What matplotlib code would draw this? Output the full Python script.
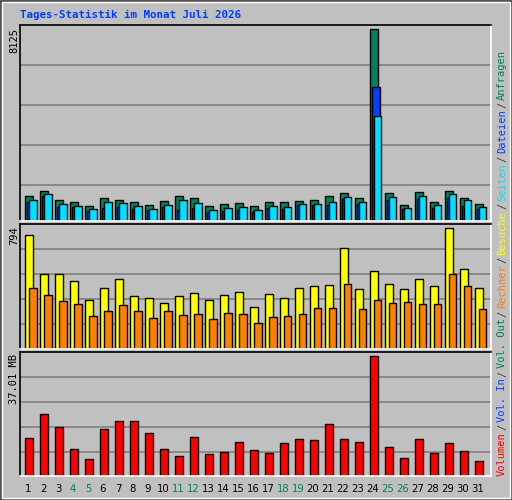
import matplotlib
matplotlib.use("Agg")
import matplotlib.pyplot as plt
from matplotlib.patches import Rectangle
import numpy as np

days = list(range(1, 32))
weekend = [4, 5, 11, 12, 18, 19, 25, 26]

hits = [1064, 1276, 893, 808, 638, 978, 893, 808, 681, 851, 1064, 978, 638, 723, 766, 638,
        808, 808, 851, 893, 1064, 1191, 978, 8125, 1191, 681, 1234, 808, 1276, 978, 723]
files = [893, 1149, 723, 638, 510, 808, 766, 638, 510, 681, 893, 766, 468, 553, 596, 468,
         638, 596, 723, 723, 808, 1021, 808, 4467, 1021, 553, 1064, 681, 1149, 893, 596]
pages = [808, 1064, 596, 596, 425, 553, 596, 510, 468, 596, 468, 553, 383, 425, 468, 383,
         553, 510, 681, 681, 681, 936, 723, 5700, 893, 510, 936, 553, 978, 638, 510]
visits = [748, 490, 496, 450, 324, 404, 463, 351, 338, 304, 351, 371, 324, 357, 377, 278,
          364, 338, 404, 417, 424, 662, 397, 510, 430, 397, 463, 417, 794, 529, 404]
sites = [404, 357, 318, 298, 218, 251, 291, 251, 205, 251, 225, 232, 199, 238, 232, 172,
         212, 218, 232, 271, 271, 430, 265, 324, 304, 311, 298, 298, 496, 417, 265]
volume = [11.89, 19.03, 15.30, 8.48, 5.38, 14.68, 17.16, 17.16, 13.44, 8.48, 6.31, 12.20,
          6.93, 7.55, 10.65, 8.17, 7.24, 10.34, 11.58, 11.27, 16.23, 11.58, 10.65, 37.01,
          9.10, 5.69, 11.58, 7.24, 10.34, 7.86, 4.76]

BG = "#C0C0C0"
W, H = 512, 500
fig = plt.figure(figsize=(W / 100, H / 100), dpi=100, facecolor=BG)


def px_axes(x0, y0, x1, y1):
    ax = fig.add_axes([x0 / W, 1 - y1 / H, (x1 - x0) / W, (y1 - y0) / H])
    ax.set_facecolor(BG)
    ax.set_xticks([])
    ax.set_yticks([])
    ax.spines["top"].set_color("black")
    ax.spines["left"].set_color("black")
    ax.spines["bottom"].set_color("white")
    ax.spines["right"].set_color("white")
    for s in ax.spines.values():
        s.set_linewidth(1.2)
    ax.set_xlim(0, 471 / 15)
    return ax


def grid(ax, fracs):
    for f in fracs:
        ax.axhline(ax.get_ylim()[1] * f, color="#808080", lw=1.2, zorder=0)


x = np.array(days) - 1 + 5 / 15
bw = 7.5 / 15
ek = dict(edgecolor="black", linewidth=1, align="edge", zorder=2)

# top panel
ax1 = px_axes(20, 25, 491, 221)
ax1.set_ylim(0, 8307)
grid(ax1, [0.184, 0.388, 0.592, 0.796])
ax1.bar(x, hits, bw, color="#00805F", **ek)
ax1.bar(x + 2 / 15, pages, bw, color="#0040FF", **ek)
ax1.bar(x + 4 / 15, files, bw, color="#00E0FF", **ek)

# middle panel
ax2 = px_axes(20, 224, 491, 349)
ax2.set_ylim(0, 822)
grid(ax2, [0.198, 0.398, 0.598, 0.798])
ax2.bar(x, visits, bw, color="#FFFF00", **ek)
ax2.bar(x + 4 / 15, sites, bw, color="#FF8000", **ek)

# bottom panel
ax3 = px_axes(20, 352, 491, 476)
ax3.set_ylim(0, 38.34)
grid(ax3, [0.191, 0.393, 0.594, 0.796])
ax3.bar(x, volume, bw, color="#FF0000", **ek)

# figure text
fig.text(20 / W, 1 - 15 / H, "Tages-Statistik im Monat Juli 2026", color="#0040FF",
         family="DejaVu Sans Mono", weight="bold", fontsize=7.8, va="center")
for lab, ytop in [("8125", 28), ("794", 226), ("37.01 MB", 354)]:
    fig.text(14 / W, 1 - ytop / H, lab, rotation=90, ha="center", va="top",
             family="DejaVu Sans Mono", fontsize=7.5)

for d in days:
    fig.text((20 + (d - 0.5) * 15 + 0.5) / W, 1 - 489 / H, str(d), ha="center", va="center",
             fontsize=7.3, color="#00805F" if d in weekend else "black")

# right legend, bottom to top
legend = [("Volumen", "#FF0000"), ("Vol. In", "#0040FF"), ("Vol. Out", "#00805F"),
          ("Rechner", "#FF8000"), ("Besuche", "#FFFF00"), ("Seiten", "#00E0FF"),
          ("Dateien", "#0040FF"), ("Anfragen", "#00805F")]
cw, gap = 6.25, 10
ypos = 476
for i, (word, col) in enumerate(legend):
    fig.text(502 / W, 1 - ypos / H, word, rotation=90, ha="center", va="bottom",
             family="DejaVu Sans Mono", fontsize=7.5, color=col)
    ypos -= len(word) * cw
    if i < len(legend) - 1:
        fig.text(502 / W, 1 - (ypos - gap / 2) / H, "/", rotation=90, ha="center",
                 va="center", family="DejaVu Sans Mono", fontsize=7.5, color="#404040")
        ypos -= gap

# outer frame
fig.patches.append(Rectangle((0.5 / W, 0.5 / H), 1 - 1 / W, 1 - 1 / H, transform=fig.transFigure,
                             fill=False, edgecolor="#404040", lw=1.2))
fig.patches.append(Rectangle((2 / W, 2 / H), 1 - 4 / W, 1 - 4 / H, transform=fig.transFigure,
                             fill=False, edgecolor="white", lw=1))

fig.savefig("out.png", dpi=100, facecolor=BG)
